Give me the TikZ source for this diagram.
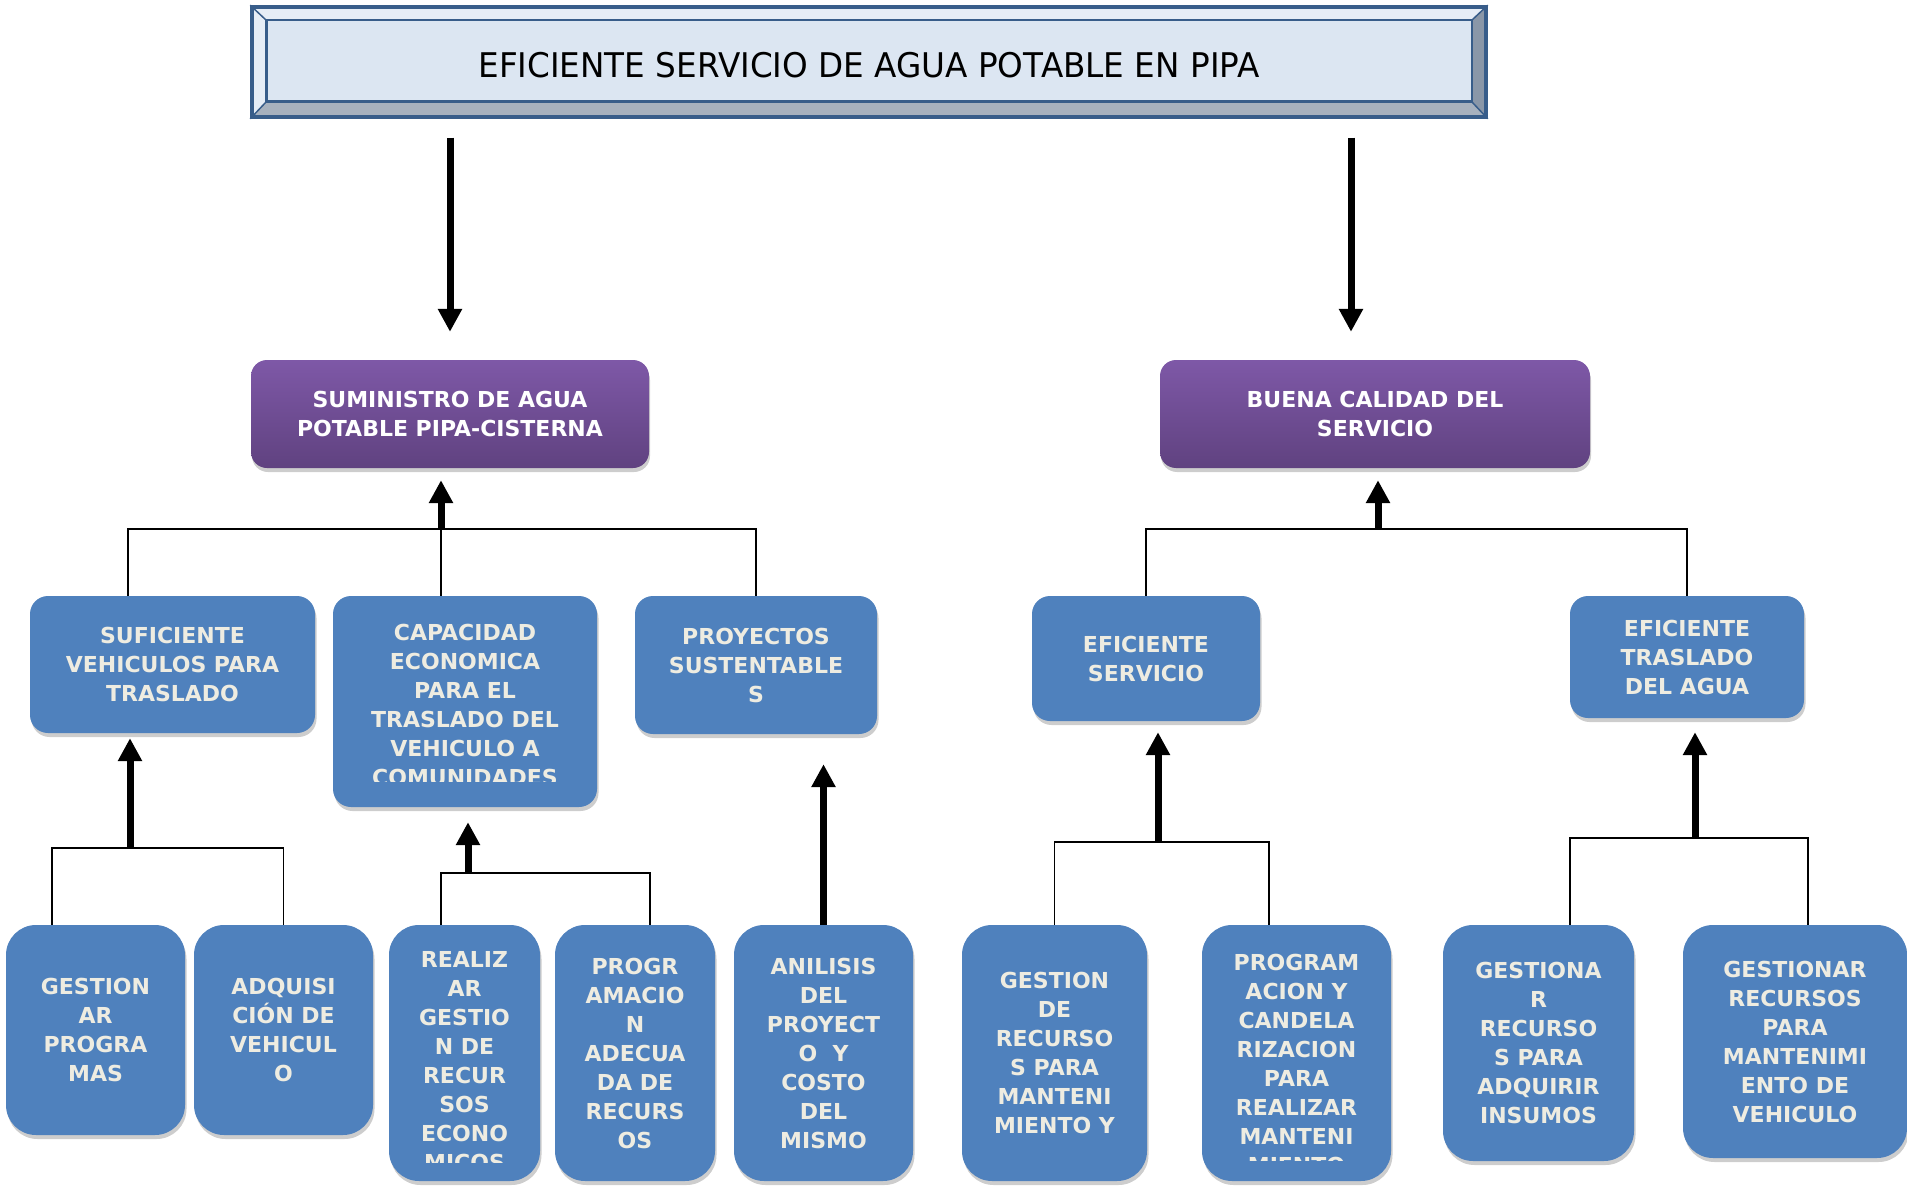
\documentclass[tikz,border=0pt]{standalone}
\usepackage{fontspec}
\setmainfont{DejaVu Sans}
\newfontfamily\titulofont{DejaVu Sans}[FakeStretch=0.96]
\usetikzlibrary{shapes,arrows.meta,positioning,calc,shadows,backgrounds}
\usepackage{xcolor}
\definecolor{azul}{HTML}{4F81BD}
\definecolor{crema}{HTML}{EEECE1}
\definecolor{moradoA}{HTML}{7E58A7}
\definecolor{moradoB}{HTML}{604280}
\definecolor{marco}{HTML}{385D8A}
\definecolor{cara}{HTML}{DCE6F2}
\definecolor{biselA}{HTML}{E6EDF6}
\definecolor{biselB}{HTML}{A7B1BE}
\definecolor{biselC}{HTML}{8A97A8}
\definecolor{sombra}{HTML}{CDCDCD}

\begin{document}
\begin{tikzpicture}[x=1pt, y=-1pt]
    \tikzstyle{efecto} = [rectangle, rounded corners=16pt, top color=moradoA, bottom color=moradoB, text=white, font=\bfseries\fontsize{22}{29}\selectfont, align=center, inner sep=0pt, drop shadow={shadow xshift=1pt, shadow yshift=-4pt, fill=sombra, opacity=1}]
    \tikzstyle{causa} = [rectangle, rounded corners=18pt, fill=azul, text=crema, font=\bfseries\fontsize{22}{29}\selectfont, align=center, inner sep=0pt, drop shadow={shadow xshift=1.5pt, shadow yshift=-4pt, fill=sombra, opacity=1}]
    \tikzstyle{accion} = [causa, rounded corners=30pt]
    \tikzstyle{texto} = [text=crema, font=\bfseries\fontsize{22}{29}\selectfont, align=center, inner sep=0pt]
    \tikzstyle{flecha} = [line width=7pt, -{Triangle[width=23pt, length=23pt]}]
    \tikzstyle{linea} = [line width=1.8pt]

    \useasboundingbox (0,0) rectangle (1907,1188);

    % Título
    \node[draw=marco, line width=3.5pt, minimum width=1234pt, minimum height=110pt, inner sep=0pt] (titulo) at (869,62) {};
    \node (titulo-t) at (869,65) {\titulofont\fontsize{34}{40}\selectfont EFICIENTE SERVICIO DE AGUA POTABLE EN PIPA};
    \coordinate (ia) at ($(titulo.north west)+(16,15)$);
    \coordinate (ib) at ($(titulo.north east)+(-16,15)$);
    \coordinate (ic) at ($(titulo.south east)+(-16,-17)$);
    \coordinate (id) at ($(titulo.south west)+(16,-17)$);
    \begin{scope}[on background layer]
        \fill[biselA] (titulo.north west) -- (titulo.north east) -- (ib) -- (ia) -- cycle;
        \fill[biselA] (titulo.north west) -- (ia) -- (id) -- (titulo.south west) -- cycle;
        \fill[biselB] (titulo.south west) -- (id) -- (ic) -- (titulo.south east) -- cycle;
        \fill[biselC] (titulo.north east) -- (titulo.south east) -- (ic) -- (ib) -- cycle;
        \fill[cara] (ia) rectangle (ic);
    \end{scope}
    \draw[marco, line width=2.5pt] (ia) rectangle (ic);
    \draw[marco, line width=1.5pt] (titulo.north west) -- (ia) (titulo.north east) -- (ib)
        (titulo.south east) -- (ic) (titulo.south west) -- (id);

    % Efectos
    \node[efecto, minimum width=398pt, minimum height=108pt] (suministro) at (450,414) {SUMINISTRO DE AGUA\\POTABLE PIPA-CISTERNA};
    \node[efecto, minimum width=430pt, minimum height=108pt] (calidad) at (1375,414) {BUENA CALIDAD DEL\\SERVICIO};

    % Causas
    \node[causa, minimum width=285pt, minimum height=137pt] (suficiente) at (172.5,664.5) {SUFICIENTE\\VEHICULOS PARA\\TRASLADO};
    \node[causa, minimum width=264pt, minimum height=211pt] (capacidad) at (465,701.5) {};
    \node[causa, minimum width=242pt, minimum height=138pt] (proyectos) at (756,665) {PROYECTOS\\SUSTENTABLE\\S};
    \node[causa, minimum width=228pt, minimum height=125pt] (servicio) at (1146,658.5) {EFICIENTE\\SERVICIO};
    \node[causa, minimum width=234pt, minimum height=122pt] (traslado) at (1687,657) {EFICIENTE\\TRASLADO\\DEL AGUA};

    % Acciones
    \node[accion, minimum width=179pt, minimum height=210pt] (gestprog) at (95.5,1030) {GESTION\\AR\\PROGRA\\MAS};
    \node[accion, minimum width=179pt, minimum height=210pt] (adquisicion) at (283.5,1030) {ADQUISI\\CIÓN DE\\VEHICUL\\O};
    \node[accion, minimum width=151pt, minimum height=256pt] (realizar) at (464.5,1053) {};
    \node[accion, minimum width=160pt, minimum height=256pt] (programacion) at (635,1053) {PROGR\\AMACIO\\N\\ADECUA\\DA DE\\RECURS\\OS};
    \node[accion, minimum width=179pt, minimum height=256pt] (anilisis) at (823.5,1053) {ANILISIS\\DEL\\PROYECT\\O\ \ Y\\COSTO\\DEL\\MISMO};
    \node[accion, minimum width=185pt, minimum height=256pt] (gestrec) at (1054.5,1053) {GESTION\\DE\\RECURSO\\S PARA\\MANTENI\\MIENTO Y};
    \node[accion, minimum width=189pt, minimum height=256pt] (progcand) at (1296.5,1053) {};
    \node[accion, minimum width=191pt, minimum height=236pt] (insumos) at (1538.5,1043) {GESTIONA\\R\\RECURSO\\S PARA\\ADQUIRIR\\INSUMOS};
    \node[accion, minimum width=224pt, minimum height=233pt] (mantenimiento) at (1795,1041.5) {GESTIONAR\\RECURSOS\\PARA\\MANTENIMI\\ENTO DE\\VEHICULO};

    % Textos recortados
    \begin{scope}
        \clip (333,596) rectangle (597,781);
        \node[texto] (capacidad-t) at (465,705) {CAPACIDAD\\ECONOMICA\\PARA EL\\TRASLADO DEL\\VEHICULO A\\COMUNIDADES};
    \end{scope}
    \begin{scope}
        \clip (389,925) rectangle (540,1162);
        \node[texto] (realizar-t) at (464.5,1061) {REALIZ\\AR\\GESTIO\\N DE\\RECUR\\SOS\\ECONO\\MICOS};
    \end{scope}
    \begin{scope}
        \clip (1202,925) rectangle (1391,1160);
        \node[texto] (progcand-t) at (1296.5,1063.5) {PROGRAM\\ACION Y\\CANDELA\\RIZACION\\PARA\\REALIZAR\\MANTENI\\MIENTO};
    \end{scope}

    % Flechas superiores
    \draw[flecha] ($(titulo.south -| suministro.north)+(0,19)$) -- ($(suministro.north)+(0,-28)$);
    \draw[flecha] ($(titulo.south -| calidad.north)+(-24,19)$) -- ($(calidad.north)+(-24,-28)$);

    % Uniones
    \coordinate (j1) at ($(suministro.south)+(-9,61)$);
    \coordinate (j2) at ($(calidad.south)+(3,61)$);
    \coordinate (j3) at ($(suficiente.south)+(-42.5,115)$);
    \coordinate (j4) at ($(capacidad.south)+(3,66)$);
    \coordinate (j5) at ($(servicio.south)+(12,121)$);
    \coordinate (j6) at ($(traslado.south)+(8,120)$);

    \draw[linea] ($(suficiente.north west)+(98,0)$) |- (j1) -| (proyectos.north);
    \draw[linea] ($(capacidad.north)+(-24,0)$) -- (j1);
    \draw[flecha] (j1) -- ($(suministro.south)+(-9,12)$);

    \draw[linea] (servicio.north) |- (j2) -| (traslado.north);
    \draw[flecha] (j2) -- ($(calidad.south)+(3,12)$);

    \draw[linea] ($(gestprog.north)+(-43.5,0)$) |- (j3) -| (adquisicion.north);
    \draw[flecha] (j3) -- ($(suficiente.south)+(-42.5,5)$);

    \draw[linea] ($(realizar.north)+(-23.5,0)$) |- (j4) -| ($(programacion.north)+(15,0)$);
    \draw[flecha] (j4) -- ($(capacidad.south)+(3,15)$);

    \draw[flecha] (anilisis.north) -- ($(anilisis.north |- proyectos.south)+(0,30)$);

    \draw[linea] (gestrec.north) |- (j5) -| ($(progcand.north)+(-27.5,0)$);
    \draw[flecha] (j5) -- ($(servicio.south)+(12,11)$);

    \draw[linea] ($(insumos.north)+(31.5,0)$) |- (j6) -| ($(mantenimiento.north)+(13,0)$);
    \draw[flecha] (j6) -- ($(traslado.south)+(8,14)$);
\end{tikzpicture}
\end{document}
